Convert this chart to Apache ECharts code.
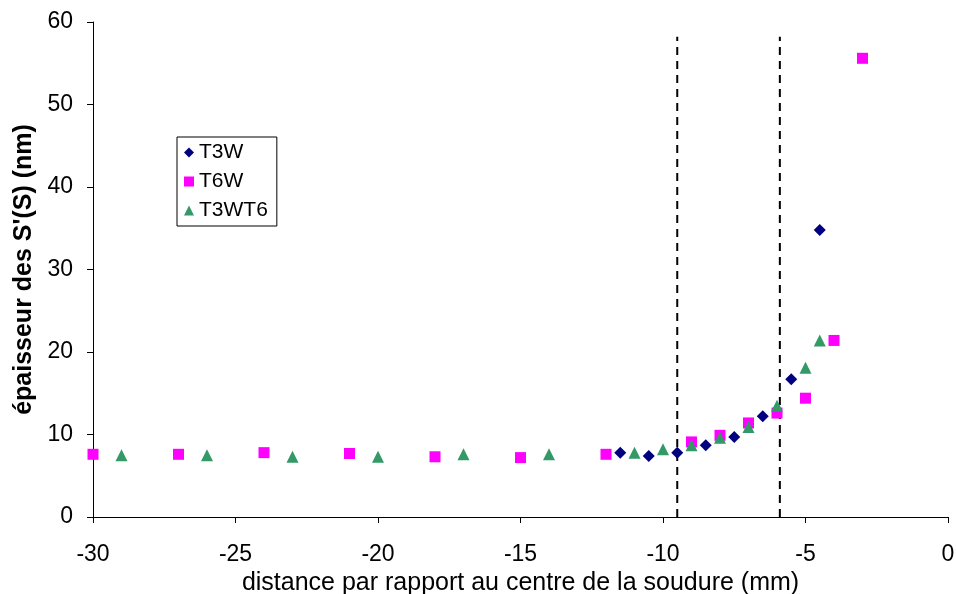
<!DOCTYPE html>
<html>
<head>
<meta charset="utf-8">
<script src="https://cdn.jsdelivr.net/npm/echarts@6/dist/echarts.min.js"></script>
<style>
  html, body { margin: 0; padding: 0; background: #fff; }
  #chart { width: 956px; height: 594px; }
</style>
</head>
<body>
<div id="chart"></div>
<script>
// T3W (diamonds)
const t3wX = [-11.5, -10.5, -9.5, -8.5, -7.5, -6.5, -5.5, -4.5];
const t3wY = [7.8, 7.4, 7.8, 8.7, 9.7, 12.2, 16.7, 34.8];
// T6W (squares)
const t6wX = [-30, -27, -24, -21, -18, -15, -12, -9, -8, -7, -6, -5, -4, -3];
const t6wY = [7.6, 7.6, 7.8, 7.7, 7.3, 7.2, 7.6, 9.1, 9.9, 11.4, 12.6, 14.4, 21.4, 55.6];
// T3WT6 (triangles)
const t3wt6X = [-29, -26, -23, -20, -17, -14, -11, -10, -9, -8, -7, -6, -5, -4.5];
const t3wt6Y = [7.5, 7.5, 7.3, 7.3, 7.6, 7.6, 7.8, 8.2, 8.7, 9.6, 10.9, 13.5, 18.1, 21.4];
// dashed limits
const limitX = [-9.5, -5.9];
const limitY = [0, 58.2];

const zip = (xs, ys) => xs.map((x, i) => [x, ys[i]]);

const chart = echarts.init(document.getElementById("chart"));
const option = {
  animation: false,
  textStyle: { fontFamily: "Liberation Sans, Arial, sans-serif" },
  grid: { left: 93, right: 8, top: 22, bottom: 77, outerBoundsMode: "none", containLabel: false },
  legend: {
    orient: "vertical",
    left: 177,
    top: 137,
    borderColor: "#000",
    borderWidth: 1,
    padding: [5, 9, 5, 7],
    itemGap: 8,
    itemWidth: 10,
    itemHeight: 10,
    textStyle: { fontSize: 21, color: "#000" },
    data: ["T3W", "T6W", "T3WT6"],
  },
  xAxis: {
    type: "value",
    min: -30,
    max: 0,
    interval: 5,
    name: "distance par rapport au centre de la soudure (mm)",
    nameLocation: "middle",
    nameGap: 52,
    nameTextStyle: { fontSize: 25, color: "#000" },
    axisLine: { onZero: false, lineStyle: { color: "#000" } },
    axisTick: { inside: false, length: 6, lineStyle: { color: "#000" } },
    axisLabel: { fontSize: 23, color: "#000", margin: 26 },
    splitLine: { show: false },
  },
  yAxis: {
    type: "value",
    min: 0,
    max: 60,
    interval: 10,
    name: "épaisseur des S'(S) (nm)",
    nameLocation: "middle",
    nameGap: 56,
    nameTextStyle: { fontSize: 25, fontWeight: "bold", color: "#000" },
    axisLine: { show: true, onZero: false, lineStyle: { color: "#000" } },
    axisTick: { show: true, length: 6, lineStyle: { color: "#000" } },
    axisLabel: { fontSize: 23, color: "#000", margin: 20 },
    splitLine: { show: false },
  },
  series: [
    {
      name: "limit1",
      type: "line",
      data: zip([limitX[0], limitX[0]], limitY),
      symbol: "none",
      lineStyle: { color: "#000", width: 2, type: [8, 6] },
      z: 1,
    },
    {
      name: "limit2",
      type: "line",
      data: zip([limitX[1], limitX[1]], limitY),
      symbol: "none",
      lineStyle: { color: "#000", width: 2, type: [8, 6] },
      z: 1,
    },
    {
      name: "T3W",
      type: "scatter",
      data: zip(t3wX, t3wY),
      symbol: "diamond",
      symbolSize: 12,
      itemStyle: { color: "#000080", opacity: 1 },
      z: 3,
    },
    {
      name: "T6W",
      type: "scatter",
      data: zip(t6wX, t6wY),
      symbol: "rect",
      symbolSize: 11,
      itemStyle: { color: "#ff00ff", opacity: 1 },
      z: 2,
    },
    {
      name: "T3WT6",
      type: "scatter",
      data: zip(t3wt6X, t3wt6Y),
      symbol: "triangle",
      symbolSize: 12,
      itemStyle: { color: "#339966", opacity: 1 },
      z: 4,
    },
  ],
};
chart.setOption(option);
</script>
</body>
</html>
